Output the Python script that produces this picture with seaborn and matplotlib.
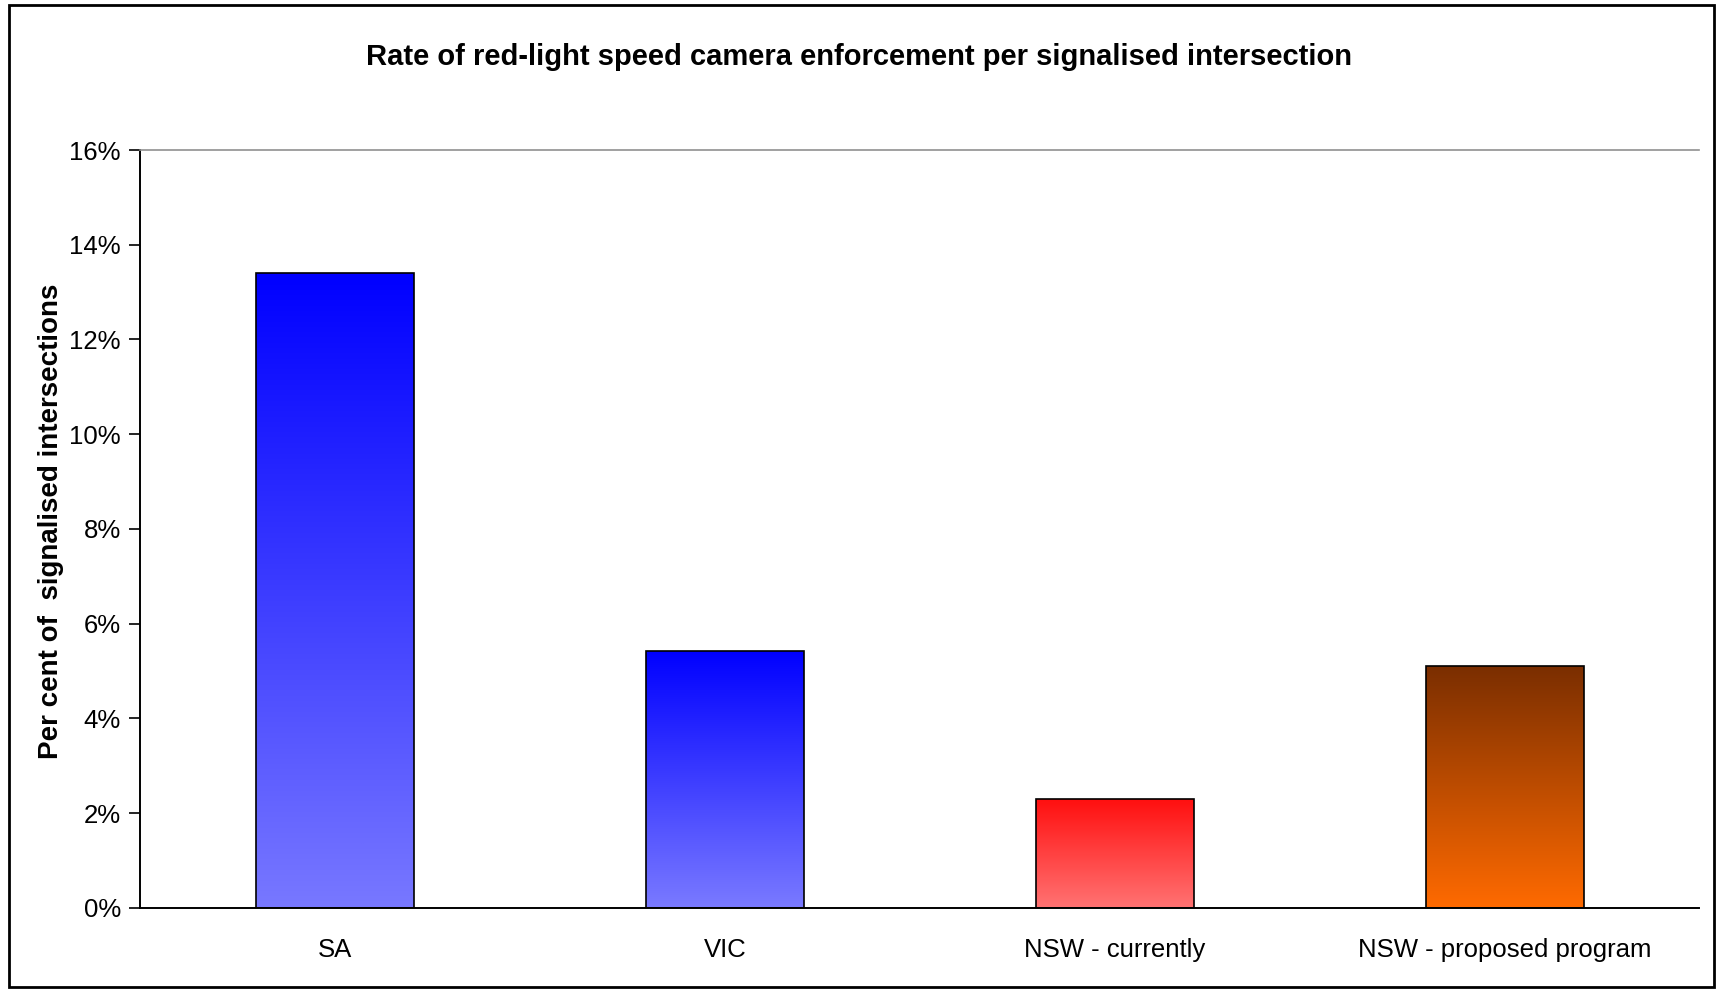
import numpy as np
import pandas as pd
import matplotlib
matplotlib.use('Agg')
import matplotlib.pyplot as plt
import matplotlib.ticker as mtick
from matplotlib.colors import to_rgb
import seaborn as sns

# Data
categories = ['SA', 'VIC', 'NSW - currently', 'NSW - proposed program']
rates = [13.4, 5.43, 2.29, 5.11]

# gradient colours for each bar (top, bottom)
top_colors = ['#0000ff', '#0000ff', '#ff0f0f', '#7a2e00']
bottom_colors = ['#7878ff', '#7a7aff', '#ff7373', '#ff6a00']

df = pd.DataFrame({'Region': categories, 'Rate': rates})

sns.set_style('white')
plt.rcParams['font.family'] = ['Liberation Sans', 'DejaVu Sans']
plt.rcParams['text.color'] = 'black'
plt.rcParams['axes.labelcolor'] = 'black'
plt.rcParams['xtick.color'] = 'black'
plt.rcParams['ytick.color'] = 'black'

fig = plt.figure(figsize=(17.17, 9.89), dpi=100)
ax = fig.add_axes([0.0817, 0.0821, 0.9081, 0.7662])

sns.barplot(data=df, x='Region', y='Rate', hue='Region', palette=top_colors,
            legend=False, width=0.405, edgecolor='black', linewidth=1.2, ax=ax)

# Replace flat fills with vertical gradients clipped to each bar
for patch, c_top, c_bot in zip(ax.patches, top_colors, bottom_colors):
    x0, y0 = patch.get_x(), patch.get_y()
    w, h = patch.get_width(), patch.get_height()
    t = np.linspace(0, 1, 256)[:, None]
    grad = (1 - t) * np.array(to_rgb(c_top)) + t * np.array(to_rgb(c_bot))
    grad = grad[:, None, :]
    im = ax.imshow(grad, extent=[x0, x0 + w, y0, y0 + h], origin='upper',
                   aspect='auto', zorder=patch.get_zorder() - 0.1)
    im.set_clip_path(patch)
    patch.set_facecolor('none')

ax.set_xlim(-0.5, 3.5)
ax.set_ylim(0, 16)
ax.yaxis.set_major_locator(mtick.MultipleLocator(2))
ax.yaxis.set_major_formatter(mtick.FuncFormatter(lambda v, p: f'{v:.0f}%'))

# category boundary ticks on the x axis
ax.set_xticks(np.arange(-0.5, 4, 1), minor=True)
ax.tick_params(axis='x', which='minor', length=8, width=1.2, color='black', direction='out')
ax.tick_params(axis='x', which='major', length=0, labelsize=18.5, pad=22)
ax.tick_params(axis='y', which='major', length=8, width=1.2, color='black',
               direction='out', labelsize=18.5, left=True, pad=6)

for side in ['left', 'bottom']:
    ax.spines[side].set_color('black')
    ax.spines[side].set_linewidth(1.4)
ax.spines['right'].set_visible(False)
ax.spines['top'].set_color('#909090')
ax.spines['top'].set_linewidth(1.2)

ax.set_xlabel('')
ax.set_ylabel('Per cent of  signalised intersections', fontsize=20, fontweight='bold')
ax.yaxis.set_label_coords(-0.049, 0.51)

fig.text(0.5, 0.942, 'Rate of red-light speed camera enforcement per signalised intersection',
         ha='center', va='center', fontsize=21, fontweight='bold')

# outer chart border
border = plt.Rectangle((0.005, 0.002), 0.993, 0.993, transform=fig.transFigure,
                       fill=False, edgecolor='black', linewidth=2)
fig.add_artist(border)

plt.savefig('out.png', dpi=100)
